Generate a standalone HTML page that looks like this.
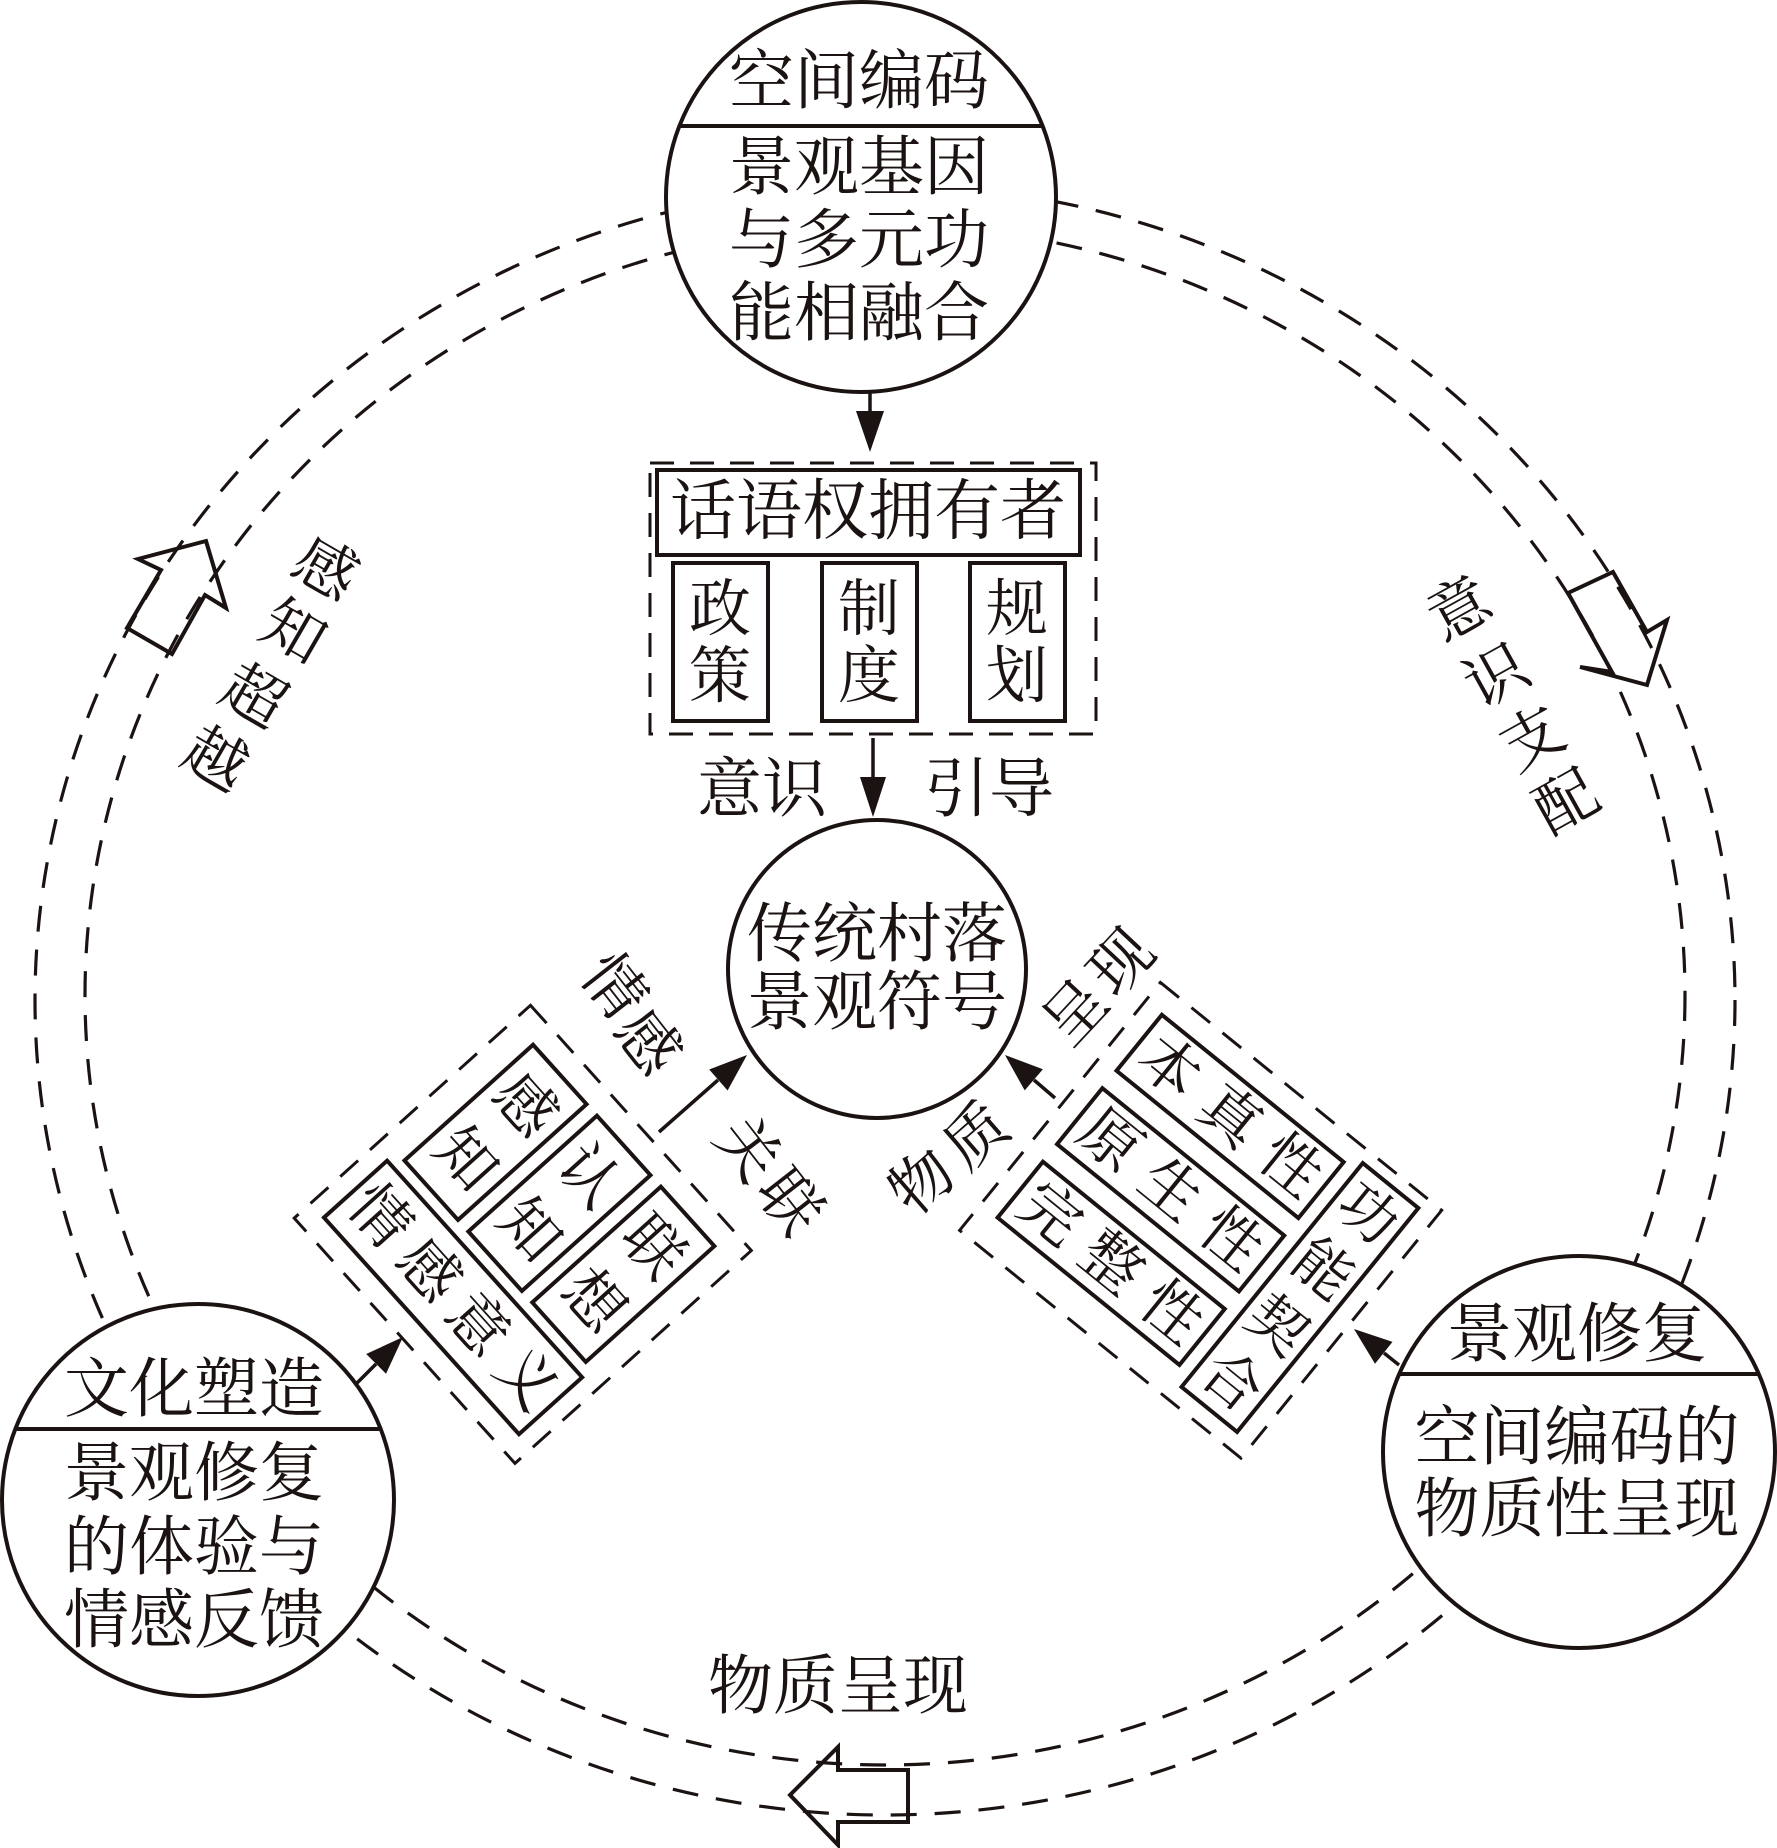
<!DOCTYPE html>
<html><head><meta charset="utf-8"><style>
html,body{margin:0;padding:0;background:#fff;}
svg{display:block;}
text{font-family:"Liberation Serif","Noto Serif CJK SC",serif;fill:#1a1311;}
</style></head><body>
<svg width="1777" height="1848" viewBox="0 0 1777 1848" xmlns="http://www.w3.org/2000/svg">
<g fill="none" stroke="#1a1311" stroke-width="3.2" stroke-dasharray="26 18">
<ellipse cx="885" cy="995" rx="800" ry="770"/>
<ellipse cx="885" cy="1000" rx="850" ry="815"/>
</g>
<g fill="none" stroke="#1a1311" stroke-width="4" stroke-linejoin="miter">
<polygon points="206,541 226,608 205,595 172,654 127,628 161,570 138,559"/>
<polygon points="1568,593 1613,572 1647,632 1667,620 1647,685 1580,667 1612,672"/>
<polygon points="790,1795 838,1747 838,1770 908,1770 908,1822 838,1822 838,1845"/>
</g>
<g fill="#fff" stroke="#1a1311" stroke-width="4">
<circle cx="861" cy="197" r="195"/>
<circle cx="877" cy="969" r="149"/>
<circle cx="198" cy="1500" r="196"/>
<circle cx="1579" cy="1452" r="196"/>
</g>
<g stroke="#1a1311" stroke-width="4">
<line x1="680" y1="126" x2="1042" y2="126"/>
<line x1="17" y1="1429" x2="379" y2="1429"/>
<line x1="1399" y1="1374" x2="1759" y2="1374"/>
</g>
<g font-size="65" text-anchor="middle" dominant-baseline="central">
<text x="859" y="82">空间编码</text>
<text x="859" y="168">景观基因</text>
<text x="859" y="241">与多元功</text>
<text x="859" y="314">能相融合</text>
<text x="877" y="935">传统村落</text>
<text x="877" y="1003">景观符号</text>
<text x="194" y="1390">文化塑造</text>
<text x="194" y="1474">景观修复</text>
<text x="194" y="1548">的体验与</text>
<text x="194" y="1621">情感反馈</text>
<text x="1577" y="1335">景观修复</text>
<text x="1577" y="1438">空间编码的</text>
<text x="1577" y="1510">物质性呈现</text>
<text x="838" y="1687">物质呈现</text>
<text x="762" y="790">意识</text>
<text x="989" y="790">引导</text>
</g>
<!-- top group -->
<rect x="650" y="463" width="446" height="271" fill="none" stroke="#1a1311" stroke-width="3" stroke-dasharray="24 16"/>
<g fill="none" stroke="#1a1311" stroke-width="4">
<rect x="657" y="470" width="423" height="85"/>
<rect x="673" y="563" width="95" height="158"/>
<rect x="822" y="563" width="95" height="158"/>
<rect x="970" y="563" width="95" height="158"/>
</g>
<g text-anchor="middle" dominant-baseline="central">
<text x="868" y="512" font-size="66">话语权拥有者</text>
<text x="720" y="610" font-size="62">政</text><text x="720" y="677" font-size="62">策</text>
<text x="869" y="610" font-size="62">制</text><text x="869" y="677" font-size="62">度</text>
<text x="1017" y="610" font-size="62">规</text><text x="1017" y="677" font-size="62">划</text>
</g>
<!-- arrows -->
<g stroke="#1a1311" stroke-width="3.5">
<line x1="870" y1="392" x2="870" y2="420"/>
<line x1="873" y1="738" x2="873" y2="780"/>
<line x1="659" y1="1132" x2="718" y2="1080"/>
<line x1="357" y1="1383" x2="376" y2="1364"/>
<line x1="1055" y1="1098" x2="1034" y2="1080"/>
<line x1="1399" y1="1365" x2="1384" y2="1353"/>
</g>
<g fill="#1a1311">
<polygon points="870,452 856,411 884,411"/>
<polygon points="873,817 860,777 886,777"/>
<polygon points="747,1055 727.6,1090.5 709.2,1069.5"/>
<polygon points="403,1337 386,1373.8 366.2,1354"/>
<polygon points="1005,1055 1042.9,1069.2 1024.7,1090.4"/>
<polygon points="1354,1329 1392.5,1341.9 1375,1363.7"/>
</g>
<!-- left group -->
<g transform="translate(522,1235) rotate(48)">
<rect x="-165" y="-160" width="330" height="318" fill="none" stroke="#1a1311" stroke-width="3" stroke-dasharray="24 16"/>
<g fill="none" stroke="#1a1311" stroke-width="4">
<rect x="-134" y="-135.5" width="80" height="173"/>
<rect x="-38.5" y="-135.5" width="80" height="173"/>
<rect x="57" y="-135.5" width="80" height="173"/>
<rect x="-145.5" y="50.5" width="291.5" height="85"/>
</g>
<g font-size="60" text-anchor="middle" dominant-baseline="central">
<text x="-94" y="-89">感</text><text x="-94" y="-9">知</text>
<text x="1.5" y="-89">认</text><text x="1.5" y="-9">知</text>
<text x="97" y="-89">联</text><text x="97" y="-9">想</text>
<text x="-109" y="93">情</text><text x="-36" y="93">感</text><text x="37" y="93">意</text><text x="110" y="93">义</text>
</g>
</g>
<!-- right group -->
<g transform="translate(1203,1219) rotate(39)">
<rect x="-182" y="-157" width="362" height="319" fill="none" stroke="#1a1311" stroke-width="3" stroke-dasharray="24 16"/>
<g fill="none" stroke="#1a1311" stroke-width="4">
<rect x="-160.5" y="-132.8" width="234" height="72"/>
<rect x="-160.5" y="-38.3" width="234" height="72"/>
<rect x="-160.5" y="56.2" width="234" height="72"/>
<rect x="89" y="-144" width="71.5" height="288"/>
</g>
<g font-size="60" text-anchor="middle" dominant-baseline="central">
<text x="-121.5" y="-96.8">本</text><text x="-43.5" y="-96.8">真</text><text x="34.5" y="-96.8">性</text>
<text x="-121.5" y="-2.3">原</text><text x="-43.5" y="-2.3">生</text><text x="34.5" y="-2.3">性</text>
<text x="-121.5" y="92.2">完</text><text x="-43.5" y="92.2">整</text><text x="34.5" y="92.2">性</text>
<text x="124.7" y="-108" font-size="58">功</text><text x="124.7" y="-36" font-size="58">能</text>
<text x="124.7" y="36" font-size="58">契</text><text x="124.7" y="108" font-size="58">合</text>
</g>
</g>
<!-- rotated labels -->
<g font-size="62" text-anchor="middle" dominant-baseline="central">
<text transform="translate(613,987) rotate(52)">情</text>
<text transform="translate(647,1043) rotate(52)">感</text>
<text transform="translate(747,1150) rotate(52)">关</text>
<text transform="translate(789,1203) rotate(52)">联</text>
<text transform="translate(1076,1013) rotate(-47)">呈</text>
<text transform="translate(1122,963) rotate(-47)">现</text>
<text transform="translate(923,1183) rotate(-41)">物</text>
<text transform="translate(977,1137) rotate(-41)">质</text>
<text transform="translate(325,570) rotate(30)">感</text>
<text transform="translate(293,633) rotate(30)">知</text>
<text transform="translate(253,697) rotate(30)">超</text>
<text transform="translate(215,760) rotate(30)">越</text>
<text transform="translate(1460,610) rotate(-29)">意</text>
<text transform="translate(1497,677) rotate(-29)">识</text>
<text transform="translate(1533,740) rotate(-29)">支</text>
<text transform="translate(1567,803) rotate(-29)">配</text>
</g>
</svg>
</body></html>
